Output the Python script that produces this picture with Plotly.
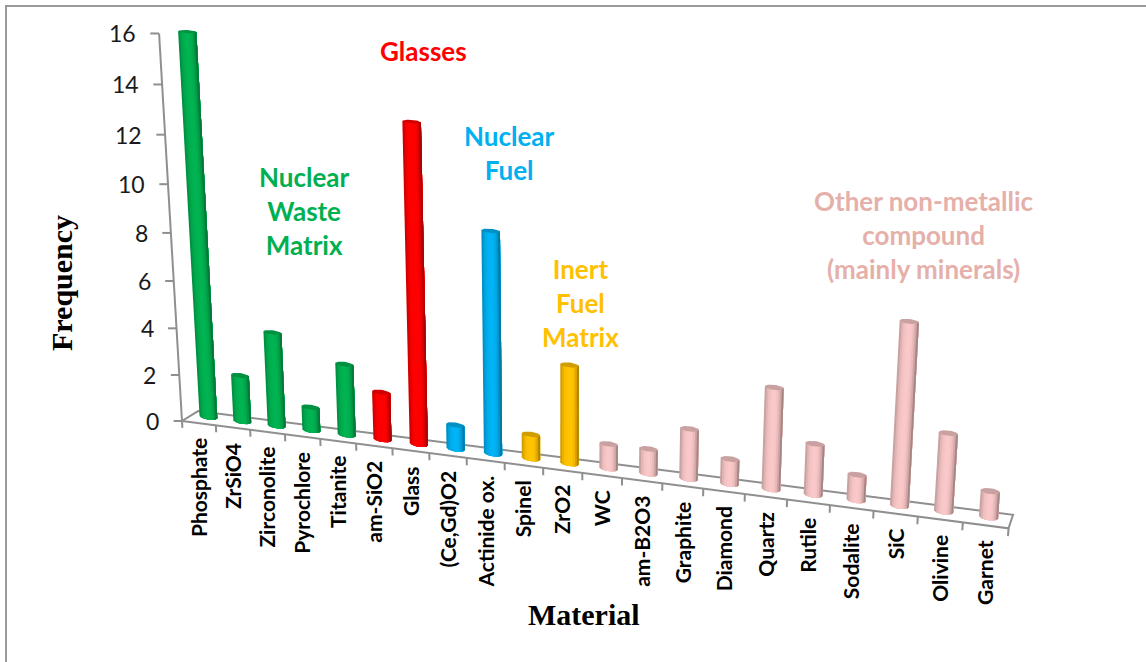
import math
import plotly.graph_objects as go

categories = ["Phosphate", "ZrSiO4", "Zirconolite", "Pyrochlore", "Titanite", "am-SiO2", "Glass",
              "(Ce,Gd)O2", "Actinide ox.", "Spinel", "ZrO2", "WC", "am-B2O3", "Graphite", "Diamond",
              "Quartz", "Rutile", "Sodalite", "SiC", "Olivine", "Garnet"]
values = [16, 2, 4, 1, 3, 2, 13, 1, 9, 1, 4, 1, 1, 2, 1, 4, 2, 1, 7, 3, 1]
groups = ["waste", "waste", "waste", "waste", "waste", "glass", "glass", "fuel", "fuel", "inert", "inert",
          "other", "other", "other", "other", "other", "other", "other", "other", "other", "other"]
group_colors = {"waste": (0, 176, 80), "glass": (255, 0, 0), "fuel": (0, 176, 240),
                "inert": (255, 192, 0), "other": (245, 196, 196)}
y_ticks = [0, 2, 4, 6, 8, 10, 12, 14, 16]

AXIS = "#8f8f8f"
TEXT_FONT = "Lato"
SERIF = "Liberation Serif"


def project(u, w, v):
    """Perspective view of the 3-D column box: u = category, w = depth, v = frequency."""
    X = 182 + 32.34 * u + 19.0 * w - 2.0 * v
    Y = 421 + 1.433 * u - 3.8 * w - 24.34 * v
    W = 1 - 0.00696 * u + 0.015 * w - 0.00357 * v
    return X / W, Y / W, W


def shade(rgb, f):
    return "rgb(%d,%d,%d)" % tuple(min(255, round(c * f)) for c in rgb)


fig = go.Figure()


def line(xs, ys, name, color=AXIS, width=2):
    fig.add_trace(go.Scatter(x=xs, y=ys, mode="lines", name=name, hoverinfo="skip",
                             line=dict(color=color, width=width)))


# frame of the picture
line([6, 6, 1146], [662, 6, 6], "frame", "#999999", 2)

# floor of the box
n = len(categories)
corners = [project(0, 0, 0), project(n, 0, 0), project(n, 1, 0), project(0, 1, 0), project(0, 0, 0)]
line([c[0] for c in corners], [c[1] for c in corners], "floor")

# x ticks
xs, ys = [], []
for i in range(n + 1):
    a, b = project(i, 0, 0), project(i, 0, -0.3)
    xs += [a[0], b[0], None]
    ys += [a[1], b[1], None]
line(xs, ys, "x ticks")

# value axis with ticks
a, b = project(0, 0, 0), project(0, 0, max(y_ticks))
line([a[0], b[0]], [a[1], b[1]], "value axis")
xs, ys = [], []
for t in y_ticks:
    a, b = project(0, 0, t), project(-0.25, 0, t)
    xs += [a[0], b[0], None]
    ys += [a[1], a[1], None]
line(xs, ys, "y ticks")

# columns: layered strips, each reaching to the right edge, give the cylinder shading
profile = [0.82, 0.92, 0.98, 1.0, 1.02, 1.02, 1.0, 0.95, 0.85, 0.68]
m = len(profile)
BAR_DEPTH = 0.6


def geom(u, v):
    cx, cy, W = project(u, BAR_DEPTH, v)
    hw = 8.9 / math.sqrt(W)
    dy = abs(project(u, 0, v)[1] - project(u, 1, v)[1])
    sv = 0.8 + 0.16 * dy
    slope = (project(u + 1, BAR_DEPTH, v)[1] - cy) / (project(u + 1, BAR_DEPTH, v)[0] - cx)
    return cx, cy, hw, sv, slope


for i, (val, gr) in enumerate(zip(values, groups)):
    rgb = group_colors[gr]
    u = i + 0.5
    tx, ty, thw, tsv, tsl = geom(u, val)
    bx, by, bhw, bsv, bsl = geom(u, 0)
    for k, f in enumerate(profile):
        s0 = -1 + 2 * k / m
        ss = [s0 + (1 - s0) * j / 12 for j in range(13)]
        px = [tx + s0 * thw, tx + thw] + [bx + s * bhw for s in reversed(ss)] + [tx + s0 * thw]
        py = [ty + tsl * s0 * thw, ty + tsl * thw] + \
             [by + bsl * s * bhw + bsv * math.sqrt(max(0.0, 1 - s * s)) for s in reversed(ss)] + \
             [ty + tsl * s0 * thw]
        c = shade(rgb, f)
        fig.add_trace(go.Scatter(x=px, y=py, mode="lines", fill="toself", fillcolor=c,
                                 line=dict(color=c, width=0), hoverinfo="skip",
                                 name="%s %d" % (categories[i], k)))
    cap = [2 * math.pi * j / 36 for j in range(37)]
    c = shade(rgb, 0.82)
    fig.add_trace(go.Scatter(x=[tx + thw * math.cos(th) for th in cap],
                             y=[ty + tsl * thw * math.cos(th) + tsv * math.sin(th) for th in cap],
                             mode="lines", fill="toself", fillcolor=c,
                             line=dict(color=c, width=0), name=categories[i],
                             text="%s: %d" % (categories[i], val), hoverinfo="text"))

annotations = []


def note(text, x, y, size, color="black", bold=True, family=TEXT_FONT, angle=0, xanchor="center", yanchor="middle"):
    annotations.append(dict(text="<b>%s</b>" % text if bold else text, x=x, y=y, xref="x", yref="y",
                            showarrow=False, textangle=angle, xanchor=xanchor, yanchor=yanchor,
                            font=dict(family=family, size=size, color=color), borderpad=0))


for t in y_ticks:
    a = project(0, 0, t)
    note(str(t), a[0] - 22, a[1], 23, "#1a1a1a", bold=False, xanchor="right")

for i, name in enumerate(categories):
    a = project(i + 0.5, 0, 0)
    note(name, a[0] - 0.5, a[1] + 14, 21, angle=-90, yanchor="top")

note("Glasses", 423, 51, 26, "#ff0000")
note("Nuclear<br>Waste<br>Matrix", 304, 211, 26, "#00b050")
note("Nuclear<br>Fuel", 509, 153, 26, "#00b0f0")
note("Inert<br>Fuel<br>Matrix", 580, 303, 26, "#ffc000")
note("Other non-metallic<br>compound<br>(mainly minerals)", 924, 235, 26, "#e6b0aa")
note("Frequency", 61, 283, 30, family=SERIF, angle=-90)
note("Material", 584, 614, 30, family=SERIF)

fig.update_layout(
    width=1146, height=662, autosize=False, showlegend=False,
    margin=dict(l=0, r=0, t=0, b=0), paper_bgcolor="white", plot_bgcolor="white",
    xaxis=dict(range=[0, 1146], visible=False, fixedrange=True),
    yaxis=dict(range=[662, 0], visible=False, fixedrange=True),
    annotations=annotations,
)
fig.write_html("out.html", config={"displayModeBar": False},
               post_script="document.body.style.margin='0';document.body.style.overflow='hidden';")
